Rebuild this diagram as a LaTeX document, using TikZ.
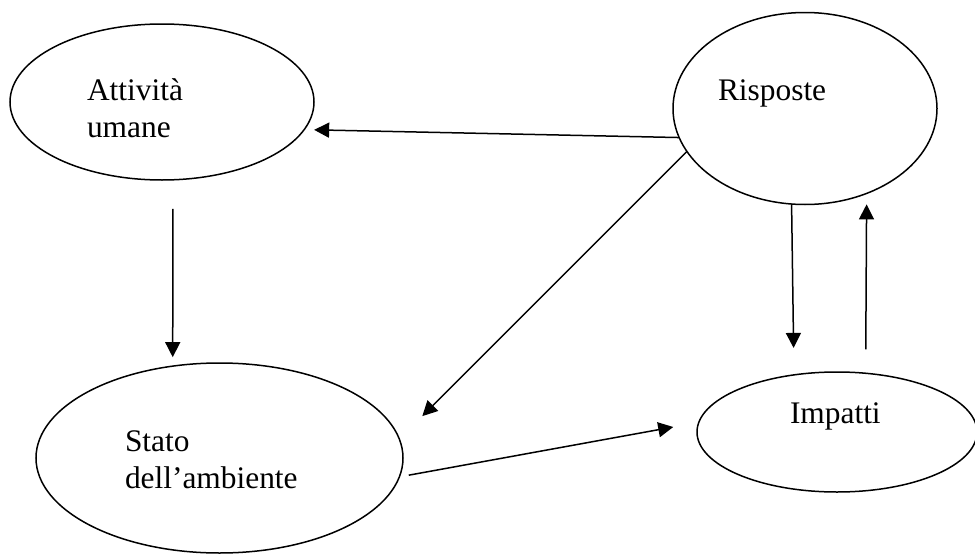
\documentclass[tikz,border=0pt]{standalone}
\usepackage{fontspec}
\setmainfont{Liberation Serif}
\usetikzlibrary{arrows.meta,shapes.geometric}
\tikzset{
  oval/.style={ellipse,draw=black,line width=1.5pt,inner sep=0pt,outer sep=0pt},
  lbl/.style={anchor=base west,inner sep=0pt,outer sep=0pt,align=left,
    font=\fontsize{31.4}{37}\selectfont},
  arr/.style={line width=1.5pt,-{Triangle[length=15pt,width=15pt]}}
}
\begin{document}
\begin{tikzpicture}[x=1pt,y=1pt]
\useasboundingbox[fill=white] (0,0) rectangle (975,-554);
% ellipses
\node[oval,minimum width=304pt,minimum height=156pt] (att) at (162,-102) {};
\node[oval,minimum width=264pt,minimum height=192pt] (ris) at (805,-108.5) {};
\node[oval,minimum width=367pt,minimum height=190pt] (sta) at (219.5,-458) {};
\node[oval,minimum width=280pt,minimum height=120pt] (imp) at (837,-432) {};
% texts (base anchor = baseline of the last line)
\node[lbl] (attt) at (87,-137) {Attività\\umane};
\node[lbl] (rist) at (718,-100) {Risposte};
\node[lbl] (stat) at (125,-488) {Stato\\dell’ambiente};
\node[lbl] (impt) at (790,-423) {Impatti};
% connectors
\draw[arr,shorten >=10pt] (ris.193.8) -- (att.-11.6);
\draw[arr,shorten <=29pt,shorten >=9pt] (att.-82) -- (sta.117.4);
\draw[arr,shorten >=32.5pt] (ris.200.3) -- (sta.6.4);
\draw[arr,shorten >=27pt] (ris.262.85) -- (imp.127.7);
\draw[arr,shorten <=24pt,shorten >=11pt] (imp.64.5) -- (ris.-54.9);
\draw[arr,shorten <=9.6pt,shorten >=26pt] (sta.-6.6) -- (imp.176.4);
\end{tikzpicture}
\end{document}
